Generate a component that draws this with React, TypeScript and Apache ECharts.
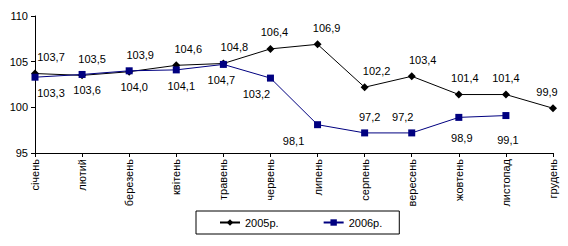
import React, { useEffect, useRef } from "react";
import * as echarts from "echarts";

const months = ["січень", "лютий", "березень", "квітень", "травень", "червень", "липень", "серпень", "вересень", "жовтень", "листопад", "грудень"];
const series2005 = [103.7, 103.5, 103.9, 104.6, 104.8, 106.4, 106.9, 102.2, 103.4, 101.4, 101.4, 99.9];
const series2006 = [103.3, 103.6, 104.0, 104.1, 104.7, 103.2, 98.1, 97.2, 97.2, 98.9, 99.1];
const yTicks = { min: 95, max: 110, interval: 5 };

// label placement styling (not data)
const dx2005 = [16, 10, 11, 12, 11, 4, 9, 12, 11, 6, 0, -6];
const place2006: Array<[string, number, number]> = [
  ["bottom", 16, 0], ["bottom", 5, 0], ["bottom", 5, 0], ["bottom", 5, 0], ["bottom", -2, 0],
  ["bottom", -14, 0], ["bottom", -24, 0], ["top", 5, 0], ["top", -9, 0], ["bottom", 3, 5], ["bottom", 2, 8],
];

const FONT = "'Liberation Sans', Arial, sans-serif";
const fmt = (v: number) => v.toFixed(1).replace(".", ",");

export default function App() {
  const ref = useRef<HTMLDivElement>(null);
  useEffect(() => {
    if (!ref.current) return;
    const chart = echarts.init(ref.current, null, { renderer: "svg" });
    chart.setOption({
      animation: false,
      backgroundColor: "#ffffff",
      textStyle: { fontFamily: FONT },
      grid: { left: 35, right: 15, top: 16, bottom: 93, containLabel: false },
      xAxis: {
        type: "category",
        data: months,
        boundaryGap: false,
        axisLine: { lineStyle: { color: "#000", width: 1 } },
        axisTick: { show: true, length: 4, alignWithLabel: true, lineStyle: { color: "#000" } },
        axisLabel: { rotate: 90, margin: 6, color: "#000", fontSize: 11, fontFamily: FONT, interval: 0 },
        splitLine: { show: false },
      },
      yAxis: {
        type: "value",
        min: yTicks.min,
        max: yTicks.max,
        interval: yTicks.interval,
        axisLine: { show: true, lineStyle: { color: "#000", width: 1 } },
        axisTick: { show: true, length: 4, lineStyle: { color: "#000" } },
        axisLabel: { margin: 7, color: "#000", fontSize: 11, fontFamily: FONT },
        splitLine: { show: false },
      },
      legend: {
        left: 196,
        top: 211,
        width: 211,
        padding: [6, 17, 6, 23],
        itemGap: 44,
        itemWidth: 20,
        itemHeight: 8,
        borderColor: "#000",
        borderWidth: 1,
        textStyle: { color: "#000", fontSize: 11, fontFamily: FONT },
        data: ["2005р.", "2006р."],
      },
      series: [
        {
          name: "2005р.",
          type: "line",
          data: series2005.map((v, i) => ({ value: v, label: { offset: [dx2005[i], -2] } })),
          symbol: "diamond",
          symbolSize: 8,
          lineStyle: { color: "#000", width: 1 },
          itemStyle: { color: "#000" },
          label: {
            show: true,
            position: "top",
            color: "#000",
            fontSize: 11,
            fontFamily: FONT,
            formatter: (p: any) => fmt(p.value),
          },
          z: 2,
        },
        {
          name: "2006р.",
          type: "line",
          data: series2006.map((v, i) => ({
            value: v,
            label: { position: place2006[i][0], offset: [place2006[i][1], place2006[i][2] + (place2006[i][0] === "bottom" ? 2 : -2)] },
          })),
          symbol: "rect",
          symbolSize: 7,
          lineStyle: { color: "#000080", width: 1 },
          itemStyle: { color: "#000080" },
          label: {
            show: true,
            color: "#000",
            fontSize: 11,
            fontFamily: FONT,
            formatter: (p: any) => fmt(p.value),
          },
          z: 3,
        },
      ],
    });
    return () => chart.dispose();
  }, []);
  return <div ref={ref} style={{ position: "fixed", left: 0, top: 0, width: 568, height: 246 }} />;
}
